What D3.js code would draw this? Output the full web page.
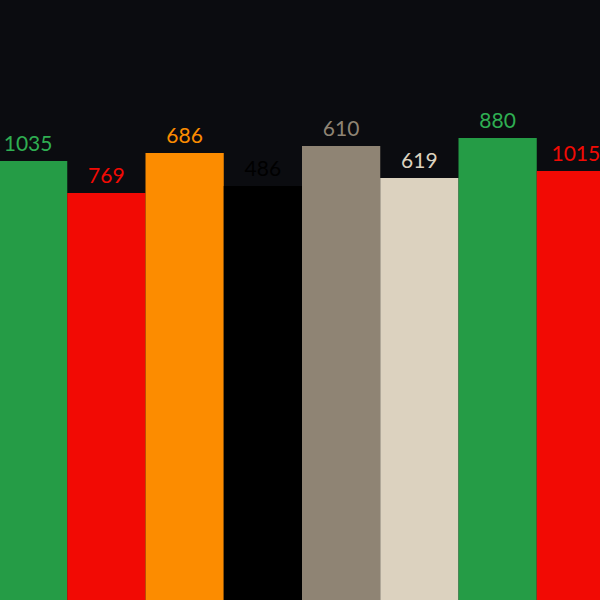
<!DOCTYPE html>
<html>
<head>
<meta charset="utf-8">
<script src="https://cdn.jsdelivr.net/npm/d3@7"></script>
<style>
  html, body { margin: 0; padding: 0; background: #0b0c10; }
  svg { display: block; }
  .bar-label { font-family: Lato, sans-serif; font-size: 21px; }
</style>
</head>
<body>
<div id="chart"></div>
<script>
// Data
const labels = ['1035', '769', '686', '486', '610', '619', '880', '1015']
const values = [1035, 769, 686, 486, 610, 619, 880, 1015]
const barSizes = [439, 407, 447, 414, 454, 422, 462, 429]
const colors = ['#259c46', '#f20a04', '#fc8c00', '#000000', '#8f8474', '#dcd2bf', '#259c46', '#f20a04']

const width = 600
const height = 600

const svg = d3.select('#chart')
  .append('svg')
  .attr('width', width)
  .attr('height', height)

svg.append('rect')
  .attr('width', width)
  .attr('height', height)
  .attr('fill', '#0b0c10')

// Scales - the band range bleeds past both edges like the original
const xScale = d3.scaleBand()
  .domain(d3.range(values.length))
  .range([-11, 615])
  .padding(0)

const yScale = d3.scaleLinear()
  .domain([0, 600])
  .range([height, 0])

const data = values.map((v, i) => ({ i, value: v, label: labels[i], size: barSizes[i], color: colors[i] }))

// Bars
svg.selectAll('.bar')
  .data(data)
  .enter()
  .append('rect')
  .attr('class', 'bar')
  .attr('x', d => xScale(d.i))
  .attr('y', d => yScale(d.size))
  .attr('width', xScale.bandwidth())
  .attr('height', d => height - yScale(d.size))
  .attr('fill', d => d.color)

// Value labels above each bar
svg.selectAll('.bar-label')
  .data(data)
  .enter()
  .append('text')
  .attr('class', 'bar-label')
  .attr('x', d => xScale(d.i) + xScale.bandwidth() / 2)
  .attr('y', d => yScale(d.size) - 10)
  .attr('text-anchor', 'middle')
  .attr('fill', d => d.i === 0 || d.i === 6 ? '#2fae52' : d.color)
  .text(d => d.label)
</script>
</body>
</html>
